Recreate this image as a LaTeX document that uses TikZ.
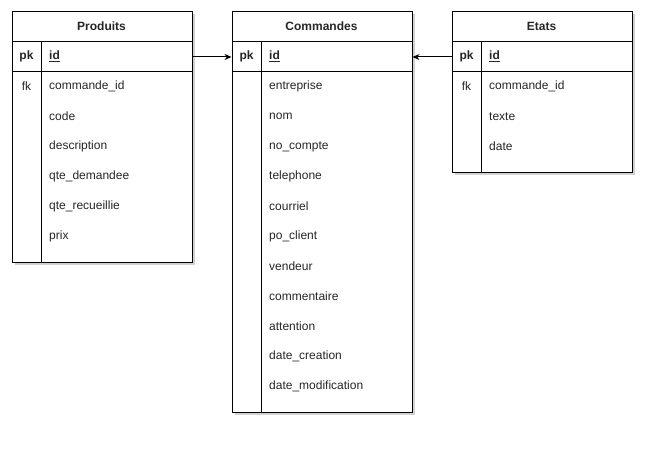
\documentclass[tikz,border=0pt]{standalone}
\usepackage{fontspec}
\setmainfont{Liberation Sans}
\usetikzlibrary{arrows.meta,shadows}
\newcommand{\ftxt}[4]{\node[fld] (#1) at (#2,#3) {#4};}
\begin{document}
\begin{tikzpicture}[x=1pt,y=-1pt,
  tbl/.style={draw=black,line width=1pt,fill=white,anchor=north west,inner sep=0pt,
     minimum width=180pt,
     drop shadow={shadow xshift=2.5pt,shadow yshift=-2.5pt,opacity=0.18,fill=black}},
  rowbox/.style={draw=black,line width=1pt,anchor=north west,inner sep=0pt,
     minimum width=180pt,minimum height=30pt},
  fld/.style={anchor=west,inner sep=0pt,font=\fontsize{12}{14}\selectfont,text=black!85},
  ttl/.style={inner sep=0pt,font=\fontsize{12}{14}\selectfont\bfseries,text=black!85},
  key/.style={inner sep=0pt,font=\fontsize{12}{14}\selectfont\bfseries,text=black!85},
  fkt/.style={inner sep=0pt,font=\fontsize{12}{14}\selectfont,text=black!85},
  div/.style={draw=black,line width=1pt},
  rel/.style={draw=black,line width=1pt,-{Stealth[length=7pt,width=6pt]}}]
\useasboundingbox[fill=white] (0,0) rectangle (672,452);

% ---------- Produits ----------
\node[tbl,minimum height=250pt] (P) at (11.5,11.5) {};
\node[rowbox] (Pt) at (11.5,11.5) {};
\node[rowbox] (Ppk) at (11.5,41.5) {};
\draw[div] (41.5,41.5) -- (41.5,261.5);
\node[ttl] (Ptl) at (101.5,26.5) {Produits};
\node[key] (Ppkl) at (26.5,56.5) {pk};
\node[fld,font=\fontsize{12}{14}\selectfont\bfseries] (Pid) at (49,56.5) {\underline{id}};
\node[fkt] (Pfk) at (26.5,86.5) {fk};
\ftxt{P1}{49}{86.5}{commande\_id}
\ftxt{P2}{49}{116.5}{code}
\ftxt{P3}{49}{146.5}{description}
\ftxt{P4}{49}{176.5}{qte\_demandee}
\ftxt{P5}{49}{206.5}{qte\_recueillie}
\ftxt{P6}{49}{236.5}{prix}

% ---------- Commandes ----------
\node[tbl,minimum height=400pt] (C) at (231.5,11.5) {};
\node[rowbox] (Ct) at (231.5,11.5) {};
\node[rowbox] (Cpk) at (231.5,41.5) {};
\draw[div] (261.5,41.5) -- (261.5,411.5);
\node[ttl] (Ctl) at (321.5,26.5) {Commandes};
\node[key] (Cpkl) at (246.5,56.5) {pk};
\node[fld,font=\fontsize{12}{14}\selectfont\bfseries] (Cid) at (269,56.5) {\underline{id}};
\ftxt{C1}{269}{86.5}{entreprise}
\ftxt{C2}{269}{116.5}{nom}
\ftxt{C3}{269}{146.5}{no\_compte}
\ftxt{C4}{269}{176.5}{telephone}
\ftxt{C5}{269}{206.5}{courriel}
\ftxt{C6}{269}{236.5}{po\_client}
\ftxt{C7}{269}{266.5}{vendeur}
\ftxt{C8}{269}{296.5}{commentaire}
\ftxt{C9}{269}{326.5}{attention}
\ftxt{C10}{269}{356.5}{date\_creation}
\ftxt{C11}{269}{386.5}{date\_modification}

% ---------- Etats ----------
\node[tbl,minimum height=160pt] (E) at (451.5,11.5) {};
\node[rowbox] (Et) at (451.5,11.5) {};
\node[rowbox] (Epk) at (451.5,41.5) {};
\draw[div] (481.5,41.5) -- (481.5,171.5);
\node[ttl] (Etl) at (541.5,26.5) {Etats};
\node[key] (Epkl) at (466.5,56.5) {pk};
\node[fld,font=\fontsize{12}{14}\selectfont\bfseries] (Eid) at (489,56.5) {\underline{id}};
\node[fkt] (Efk) at (466.5,86.5) {fk};
\ftxt{E1}{489}{86.5}{commande\_id}
\ftxt{E2}{489}{116.5}{texte}
\ftxt{E3}{489}{146.5}{date}

% ---------- relations ----------
\draw[rel] (Ppk.east) -- (Cpk.west);
\draw[rel] (Epk.west) -- (Cpk.east);
\end{tikzpicture}
\end{document}
